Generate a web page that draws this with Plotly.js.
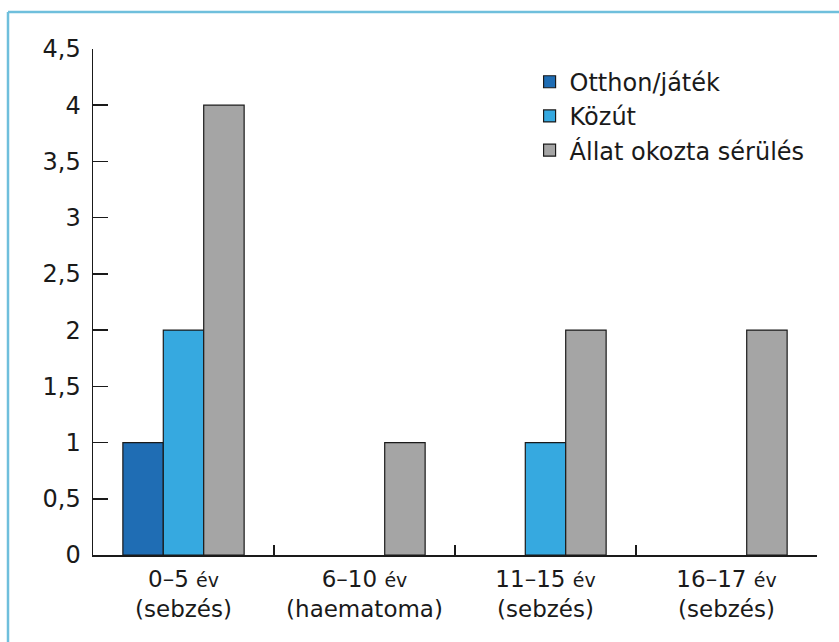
<!DOCTYPE html>
<html>
<head>
<meta charset="utf-8">
<script src="https://cdn.plot.ly/plotly-3.0.1.min.js"></script>
<style>html,body{margin:0;padding:0;background:#fff;}#chart{width:839px;height:642px;}</style>
</head>
<body>
<div id="chart"></div>
<script>
const categories = [
  "0–5 <span style='font-size:19px'>év</span><br>(sebzés)",
  "6–10 <span style='font-size:19px'>év</span><br>(haematoma)",
  "11–15 <span style='font-size:19px'>év</span><br>(sebzés)",
  "16–17 <span style='font-size:19px'>év</span><br>(sebzés)"
];
const seriesNames = ["Otthon/játék", "Közút", "Állat okozta sérülés"];
const otthon = [1, null, null, null];
const kozut = [2, null, 1, null];
const allat = [4, 1, 2, 2];
const colors = ["#1f6db4", "#36a9e0", "#a5a5a5"];
const yTicks = [0, 0.5, 1, 1.5, 2, 2.5, 3, 3.5, 4, 4.5];

const values = [otthon, kozut, allat];
const traces = values.map((v, i) => ({
  type: "bar",
  name: seriesNames[i],
  x: categories,
  y: v,
  marker: {color: colors[i], line: {color: "#1a1a1a", width: 1.2}},
  hoverinfo: "none"
}));

const layout = {
  width: 839, height: 642,
  margin: {l: 93, r: 22, t: 49, b: 87},
  paper_bgcolor: "#fff", plot_bgcolor: "#fff",
  font: {family: "DejaVu Sans, Arial, sans-serif", color: "#1a1a1a", size: 22},
  separators: ",.",
  barmode: "group",
  bargap: 0.33,
  bargroupgap: 0,
  showlegend: true,
  legend: {
    x: 0.603, y: 0.979, xanchor: "left", yanchor: "top",
    font: {size: 24, color: "#1a1a1a"},
    bgcolor: "rgba(0,0,0,0)",
    tracegroupgap: 0,
    itemwidth: 30
  },
  xaxis: {
    type: "category",
    showline: true, linecolor: "#1a1a1a", linewidth: 1.5,
    ticks: "inside", ticklen: 10, tickwidth: 1.5, tickcolor: "#1a1a1a",
    tickson: "boundaries",
    showgrid: false, zeroline: false,
    tickfont: {size: 23},
    ticklabelstandoff: 3
  },
  yaxis: {
    range: [0, 4.5],
    tickvals: yTicks,
    showline: true, linecolor: "#1a1a1a", linewidth: 1.5,
    ticks: "inside", ticklen: 15, tickwidth: 1.5, tickcolor: "#1a1a1a",
    showgrid: false, zeroline: false,
    tickfont: {size: 24},
    ticklabelstandoff: 6
  },
  shapes: [
    {type: "line", xref: "paper", yref: "paper", x0: -0.1174, x1: 1.1, y0: 1.0731, y1: 1.0731, line: {color: "#6fbfdc", width: 2.5}},
    {type: "line", xref: "paper", yref: "paper", x0: -0.1174, x1: -0.1174, y0: 1.0731, y1: -0.2, line: {color: "#6fbfdc", width: 2.5}}
  ]
};

Plotly.newPlot("chart", traces, layout, {displayModeBar: false, staticPlot: true});
</script>
</body>
</html>
